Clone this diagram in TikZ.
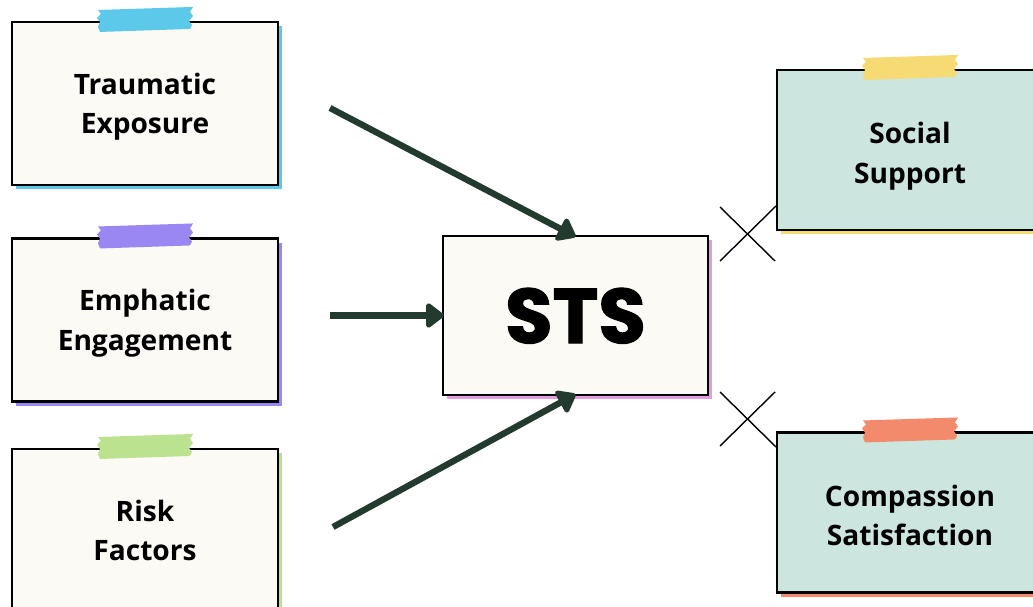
\documentclass[tikz,border=0pt]{standalone}
\usepackage{fontspec}
\setmainfont{Open Sans}
\newfontfamily\stsfont{Poppins}[BoldFeatures={FakeBold=1.6}]
\usepackage{tikz}
\usetikzlibrary{arrows.meta}

\definecolor{paper}{HTML}{FBFAF5}
\definecolor{mint}{HTML}{CCE6DF}
\definecolor{tapeblue}{HTML}{5CC9EA}
\definecolor{tapepurple}{HTML}{9A87F2}
\definecolor{tapegreen}{HTML}{BBE28E}
\definecolor{tapeyellow}{HTML}{F6DA74}
\definecolor{tapeorange}{HTML}{F48A6C}
\definecolor{tapepink}{HTML}{E39CDF}
\definecolor{arrowgreen}{HTML}{233B2F}

% ragged strip of tape over the top edge of a card
\newcommand{\tape}[2]{%
\begin{scope}[shift={(#1.north)}]
\fill[#2] (-47,-11) -- (-44,-7) -- (-48,-3) -- (-45,1) -- (-47,6) -- (-45,11)
  -- (45,8) -- (47,4) -- (44,0) -- (48,-5) -- (45,-9) -- (48,-14) -- cycle;
\end{scope}}

\tikzset{
  card/.style={draw=black, line width=1.2pt, fill=paper, inner sep=0pt,
    minimum width=5.32cm, minimum height=3.26cm, align=center, text depth=0pt,
    font=\bfseries\fontsize{16}{22.5}\selectfont},
  mintcard/.style={card, fill=mint, minimum height=3.2cm, text height=38pt},
  backing/.style={preaction={fill=#1, transform canvas={shift={(2.4pt,-2.4pt)}}}},
  flow/.style={draw=arrowgreen, line width=3.6pt,
    -{Triangle[round, length=11pt, width=16pt]}},
  cross/.style={draw=black, line width=0.8pt}
}

\begin{document}
\begin{tikzpicture}[x=0.02cm, y=-0.02cm]
\clip (0,0) rectangle (1033,607);
\fill[white] (0,0) rectangle (1033,607);

\node (trauma) at (145,103.5) [card, backing=tapeblue] {Traumatic\\Exposure};
\node (engage) at (145,320) [card, backing=tapepurple] {Emphatic\\Engagement};
\node (risk) at (145,530.5) [card, backing=tapegreen] {Risk\\Factors};

\node (sts) at (575.5,315.5) [card, backing=tapepink, minimum width=5.3cm,
  minimum height=3.18cm,
  font=\stsfont\bfseries\fontsize{44}{46}\selectfont] {STS};

\node (social) at (910,150) [mintcard, backing=tapeyellow] {Social\\Support};
\node (compassion) at (910,512.5) [mintcard, backing=tapeorange] {Compassion\\Satisfaction};

\tape{trauma}{tapeblue}
\tape{engage}{tapepurple}
\tape{risk}{tapegreen}
\tape{social}{tapeyellow}
\tape{compassion}{tapeorange}

\coordinate (in1) at (330,108);
\coordinate (in2) at (330,315.5);
\coordinate (in3) at (333,527);
\draw[flow] (in1) -- ([yshift=-1pt]sts.north);
\draw[flow] (in2) -- ([xshift=1pt]sts.west);
\draw[flow] (in3) -- ([yshift=1pt]sts.south);

\coordinate (xa1) at (720,207);
\coordinate (xa2) at (775,261);
\coordinate (xa3) at (720,261);
\coordinate (xa4) at (776,206);
\draw[cross] (xa1) -- (xa2);
\draw[cross] (xa3) -- (xa4);

\coordinate (xb1) at (720,392);
\coordinate (xb2) at (776,447);
\coordinate (xb3) at (720,446);
\coordinate (xb4) at (775,392);
\draw[cross] (xb1) -- (xb2);
\draw[cross] (xb3) -- (xb4);

\end{tikzpicture}
\end{document}
